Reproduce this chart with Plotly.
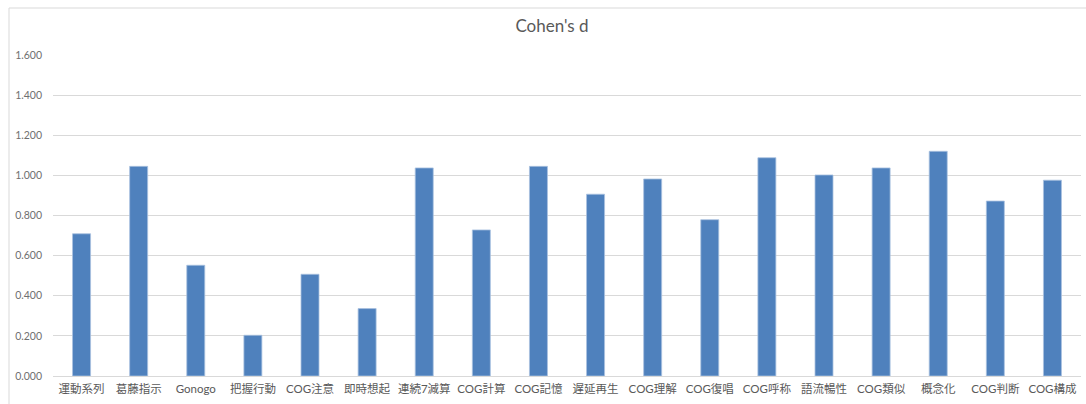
import plotly.graph_objects as go

categories = [
    "運動系列", "葛藤指示", "Gonogo", "把握行動", "COG注意", "即時想起",
    "連続7減算", "COG計算", "COG記憶", "遅延再生", "COG理解", "COG復唱",
    "COG呼称", "語流暢性", "COG類似", "概念化", "COG判断", "COG構成",
]
cohens_d = [
    0.709, 1.045, 0.552, 0.203, 0.507, 0.336,
    1.037, 0.728, 1.045, 0.906, 0.982, 0.779,
    1.088, 1.002, 1.037, 1.120, 0.872, 0.976,
]
y_ticks = [0.0, 0.2, 0.4, 0.6, 0.8, 1.0, 1.2, 1.4, 1.6]

W, H = 1086, 404
ML, MR, MT, MB = 53, 5, 55, 28
plot_w = W - ML - MR
plot_h = H - MT - MB

FONT = "Lato, Noto Sans CJK JP, sans-serif"
GRAY = "#595959"

fig = go.Figure(
    go.Bar(
        x=categories,
        y=cohens_d,
        marker=dict(color="#4f81bd", line=dict(color="#a9c1e0", width=0.8)),
        hoverinfo="x+y",
    )
)

# chart frame (light gray border around the whole chart area)
fig.add_shape(
    type="rect", xref="paper", yref="paper",
    x0=(9 - ML) / plot_w, x1=(W + 20 - ML) / plot_w,
    y0=-(MB + 20) / plot_h, y1=(H - MB - 8) / plot_h,
    line=dict(color="#d9d9d9", width=1), fillcolor="rgba(0,0,0,0)",
    layer="below",
)

fig.update_layout(
    width=W, height=H,
    margin=dict(l=ML, r=MR, t=MT, b=MB, pad=0),
    paper_bgcolor="white", plot_bgcolor="white",
    showlegend=False,
    bargap=0.685,
    title=dict(
        text="Cohen's d",
        x=(552 - ML) / plot_w, xref="paper", xanchor="center",
        y=1 - 26 / H, yref="container", yanchor="middle",
        font=dict(family=FONT, size=17, color=GRAY),
    ),
    font=dict(family=FONT, color=GRAY),
)

fig.update_xaxes(
    showgrid=False, showline=True, linecolor="#d9d9d9", linewidth=1,
    ticks="", tickfont=dict(family=FONT, size=11.5, color=GRAY),
    tickangle=0, ticklabelstandoff=2,
)
fig.update_yaxes(
    range=[0, 1.6], tickvals=y_ticks, tickformat=".3f",
    showgrid=True, gridcolor="#d9d9d9", gridwidth=1,
    zeroline=False, showline=False, ticks="",
    tickfont=dict(family=FONT, size=10.5, color="#6f6f6f"),
    ticklabelstandoff=10,
)

fig.write_html("out.html")
